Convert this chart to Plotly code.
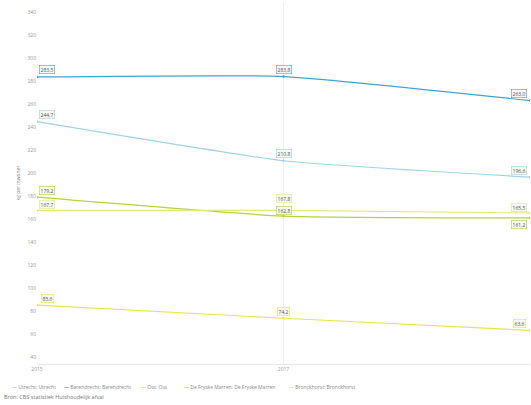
import plotly.graph_objects as go

years = [2015, 2017, 2019]
series_names = ["Utrecht: Utrecht", "Barendrecht: Barendrecht", "Oss: Oss",
                "De Fryske Marren: De Fryske Marren", "Bronckhorst: Bronckhorst"]
utrecht = [244.7, 210.8, 196.6]
barendrecht = [283.5, 283.8, 263.0]
oss = [85.6, 74.2, 63.6]
fryske_marren = [179.2, 162.8, 161.2]
bronckhorst = [167.7, 167.8, 165.5]
y_ticks = [40, 60, 80, 100, 120, 140, 160, 180, 200, 220, 240, 260, 280, 300, 320, 340]
x_ticks = [2015, 2017, 2019]

data = [utrecht, barendrecht, oss, fryske_marren, bronckhorst]
colors = ["#9fd2ea", "#3ea3d0", "#ebe44a", "#b6d23c", "#e3e87a"]
# label vertical shift (px) per series per point
label_shift = [
    [7, 7, 7],
    [7, 7, 7],
    [7, 7, 7],
    [7, 6, -7],
    [6, 12, 5],
]
# legend entry start positions (paper x)
legend_x = [-0.055, 0.05, 0.207, 0.294, 0.507]

fig = go.Figure()
for name, vals, col in zip(series_names, data, colors):
    fig.add_trace(go.Scatter(
        x=years, y=vals, name=name, mode="lines+markers",
        line=dict(color=col, width=1.2, shape="spline", smoothing=0.45),
        marker=dict(size=2.5, color=col),
        showlegend=False,
    ))

annotations = []
for i, vals in enumerate(data):
    for j, (xv, yv) in enumerate(zip(years, vals)):
        if j == 0:
            xs = 10
        elif j == len(years) - 1:
            xs = -11
        else:
            xs = 0
        annotations.append(dict(
            x=xv, y=yv, xref="x", yref="y",
            text=f"{yv:.1f}".replace(".", ","),
            showarrow=False, xanchor="center", yanchor="middle",
            xshift=xs, yshift=label_shift[i][j],
            font=dict(size=5, color="#555555", family="Open Sans"),
            bgcolor="rgba(245,248,240,0.9)",
            bordercolor=colors[i], borderwidth=0.6, borderpad=1,
        ))

for name, col, lx in zip(series_names, colors, legend_x):
    annotations.append(dict(
        x=lx, y=-0.063, xref="paper", yref="paper",
        xanchor="left", yanchor="middle", showarrow=False,
        text=f"<span style='color:{col}'><b>—</b></span> {name}",
        font=dict(size=5, color="#888888", family="Open Sans"),
    ))

annotations.append(dict(
    x=-0.07, y=-0.092, xref="paper", yref="paper",
    xanchor="left", yanchor="middle",
    text="Bron: CBS statistiek Huishoudelijk afval",
    showarrow=False, font=dict(size=5.5, color="#777777", family="Open Sans"),
))

fig.update_layout(
    width=531, height=405,
    margin=dict(l=37, r=1, t=2, b=41, autoexpand=False),
    paper_bgcolor="white", plot_bgcolor="white",
    font=dict(family="Open Sans", size=5, color="#999999"),
    showlegend=False,
    annotations=annotations,
    xaxis=dict(range=[2015, 2019], tickvals=x_ticks, ticktext=[str(t) for t in x_ticks],
               showgrid=True, gridcolor="#eeeeee", gridwidth=1, automargin=False,
               showline=True, linecolor="#e6e6e6", zeroline=False,
               tickfont=dict(size=5, color="#999999"), ticks=""),
    yaxis=dict(range=[34.5, 348.5], tickvals=y_ticks, automargin=False,
               showgrid=False, zeroline=False, showline=False,
               tickfont=dict(size=5, color="#999999"),
               title=dict(text="kg per inwoner", font=dict(size=5, color="#888888"), standoff=6)),
)

fig.write_html("out.html", config={"displayModeBar": False},
               post_script="document.body.style.margin='0';")
